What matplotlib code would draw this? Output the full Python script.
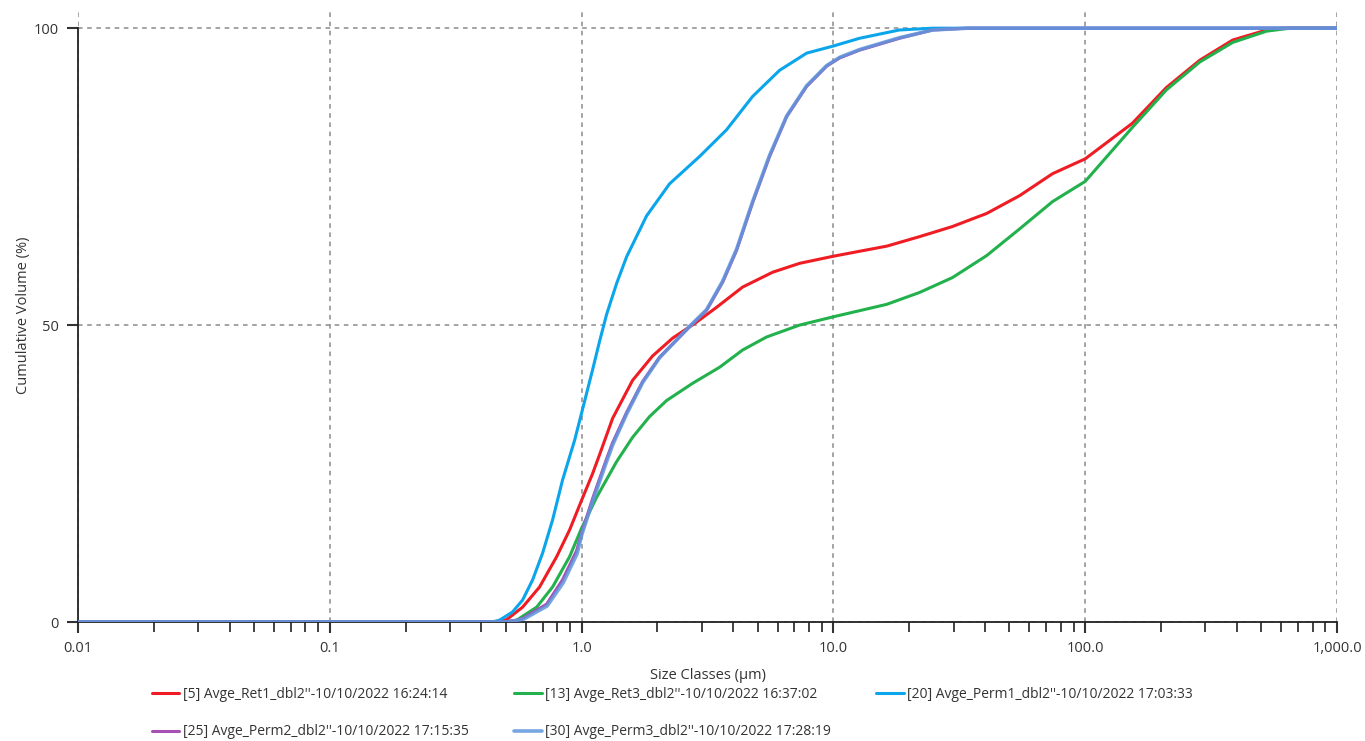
import numpy as np
import matplotlib
matplotlib.use("Agg")
import matplotlib.pyplot as plt
from matplotlib.ticker import FixedLocator, LogLocator, NullFormatter

plt.rcParams['font.family'] = ['Open Sans', 'DejaVu Sans']

# sizes (um) and cumulative volume (%)
ret1_x = [0.01, 0.46, 0.504, 0.583, 0.681, 0.796, 0.896, 1.0, 1.106, 1.179, 1.328, 1.594, 1.914, 2.298,
          2.862, 3.437, 4.358, 5.735, 7.34, 10.0, 16.3, 22.0, 29.7, 40.6, 54.9, 74.2, 100, 154, 210,
          285, 385, 525, 608, 1000]
ret1_y = [0, 0, 0.4, 2.5, 5.9, 11.0, 15.5, 20.5, 25.0, 28.2, 34.3, 40.7, 44.8, 47.8,
          50.5, 53.0, 56.4, 58.9, 60.4, 61.6, 63.3, 64.9, 66.6, 68.8, 71.8, 75.5, 78.0, 84.0, 90.0,
          94.6, 98.0, 99.7, 100, 100]

ret3_x = [0.01, 0.5, 0.552, 0.663, 0.767, 0.896, 1.0, 1.147, 1.377, 1.594, 1.862, 2.176, 2.76, 3.532,
          4.358, 5.43, 7.34, 10.0, 16.3, 22.0, 29.7, 40.6, 54.9, 74.2, 100, 154, 210, 285, 385,
          525, 650, 1000]
ret3_y = [0, 0, 0.3, 2.5, 5.9, 11.0, 15.8, 21.0, 27.0, 31.1, 34.6, 37.3, 40.2, 42.9,
          45.8, 48.0, 50.0, 51.4, 53.5, 55.5, 58.0, 61.7, 66.2, 70.8, 74.2, 83.3, 89.6, 94.3, 97.6,
          99.5, 100, 100]

perm1_x = [0.01, 0.44, 0.472, 0.532, 0.583, 0.639, 0.70, 0.767, 0.840, 0.938, 1.0, 1.106, 1.179,
           1.257, 1.377, 1.509, 1.812, 2.236, 2.942, 3.766, 4.776, 6.11, 7.83, 10.0, 12.7, 18.3,
           24.8, 1000]
perm1_y = [0, 0, 0.3, 1.7, 3.7, 7.1, 11.6, 17.2, 23.9, 30.6, 35.2, 42.5, 47.3,
           51.8, 57.0, 61.5, 68.4, 73.8, 78.4, 82.9, 88.5, 92.9, 95.8, 97.0, 98.3, 99.7,
           100, 100]

perm2_x = [0.01, 0.49, 0.552, 0.583, 0.726, 0.840, 0.955, 1.0, 1.106, 1.257, 1.328, 1.509, 1.747,
           2.04, 2.384, 2.685, 3.136, 3.631, 4.127, 4.776, 5.58, 6.52, 7.83, 9.4, 10.6, 12.7, 18.3,
           24.8, 34.1, 1000]
perm2_y = [0, 0, 0.3, 0.6, 3.0, 7.1, 12.0, 15.0, 20.8, 27.5, 30.2, 35.3, 40.5,
           44.6, 47.5, 49.7, 52.5, 57.2, 62.6, 70.6, 78.4, 85.1, 90.2, 93.6, 95.0, 96.3, 98.3,
           99.7, 100, 100]

perm3_x = [0.01, 0.50, 0.56, 0.59, 0.73, 0.845, 0.96, 1.0, 1.106, 1.257, 1.328, 1.509, 1.747,
           2.04, 2.384, 2.685, 3.136, 3.631, 4.127, 4.776, 5.58, 6.52, 7.83, 9.4, 10.6, 12.7, 18.3,
           24.8, 34.1, 1000]
perm3_y = [0, 0, 0.3, 0.5, 2.7, 6.6, 11.5, 14.6, 20.3, 27.0, 29.8, 35.0, 40.3,
           44.5, 47.5, 49.8, 52.6, 57.4, 62.8, 70.8, 78.6, 85.2, 90.3, 93.7, 95.1, 96.4, 98.4,
           99.7, 100, 100]

labels = ["[5] Avge_Ret1_dbl2''-10/10/2022 16:24:14",
          "[13] Avge_Ret3_dbl2''-10/10/2022 16:37:02",
          "[20] Avge_Perm1_dbl2''-10/10/2022 17:03:33",
          "[25] Avge_Perm2_dbl2''-10/10/2022 17:15:35",
          "[30] Avge_Perm3_dbl2''-10/10/2022 17:28:19"]
colors = ['#f01c24', '#22b14c', '#0ba5ec', '#a64fb4', '#5f97dd']

x_ticks = [0.01, 0.1, 1, 10, 100, 1000]
x_ticklabels = ['0.01', '0.1', '1.0', '10.0', '100.0', '1,000.0']
y_ticks = [0, 50, 100]

fig = plt.figure(figsize=(13.65, 7.41), dpi=100)
ax = fig.add_axes([78 / 1365, 1 - 622 / 741, (1337 - 78) / 1365, (622 - 8) / 741])

series = [(ret1_x, ret1_y), (ret3_x, ret3_y), (perm1_x, perm1_y), (perm2_x, perm2_y), (perm3_x, perm3_y)]
handles = []
for i, (xs, ys) in enumerate(series):
    lw = 2.6 if i == 4 else 2.2
    alpha = 0.85 if i == 4 else 1.0
    h, = ax.plot(xs, ys, color=colors[i], lw=lw, alpha=alpha, label=labels[i],
                 solid_joinstyle='round', solid_capstyle='round', zorder=3 + i)
    handles.append(h)

ax.set_xscale('log')
ax.set_xlim(0.01, 1000)
ax.set_ylim(0, 103.4)

ax.xaxis.set_major_locator(FixedLocator(x_ticks))
ax.set_xticklabels(x_ticklabels)
ax.xaxis.set_minor_locator(LogLocator(base=10, subs=np.arange(2, 10)))
ax.xaxis.set_minor_formatter(NullFormatter())
ax.set_yticks(y_ticks)

ax.grid(True, which='major', linestyle=(0, (3, 3)), color='#8a8a8a', lw=1.1)
ax.set_axisbelow(True)

for s in ['top', 'right']:
    ax.spines[s].set_visible(False)
ax.spines['left'].set_bounds(0, 100)
ax.spines['left'].set_color('#222222')
ax.spines['bottom'].set_color('#222222')
ax.spines['left'].set_linewidth(1.3)
ax.spines['bottom'].set_linewidth(1.3)

ax.tick_params(axis='both', which='major', length=8, width=1.5, color='#333333',
               labelsize=10.5, labelcolor='#333333', pad=6)
ax.tick_params(axis='x', which='minor', length=7, width=1.3, color='#333333')

ax.set_xlabel('Size Classes (µm)', fontsize=10.5, color='#333333', labelpad=8)
ax.set_ylabel('Cumulative Volume (%)', fontsize=10.5, color='#333333', labelpad=2)

# matplotlib fills legend columns first, so reorder to get the row layout
order = [0, 3, 1, 4, 2]
fig.legend([handles[k] for k in order], [labels[k] for k in order],
           loc='upper left', bbox_to_anchor=(139 / 1365, 1 - 674 / 741), ncol=3,
           frameon=False, fontsize=10, handlelength=2.0, handletextpad=0.25,
           columnspacing=3.25, labelspacing=1.65, labelcolor='#333333')

fig.savefig('out.png', dpi=100)
